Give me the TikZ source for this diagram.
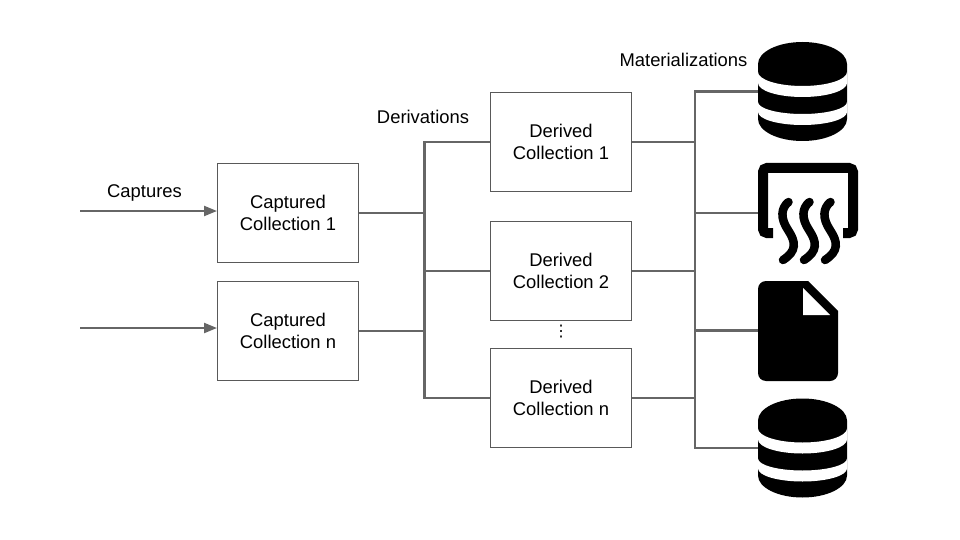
\documentclass[tikz,border=0pt]{standalone}
\usepackage{fontspec}
\setmainfont{Liberation Sans}
\newfontfamily\dotsfont{DejaVu Sans}
\usetikzlibrary{arrows.meta}
\definecolor{linegray}{HTML}{666666}
\definecolor{boxgray}{HTML}{595959}
\tikzset{
  box/.style={draw=boxgray,line width=1pt,fill=white,minimum width=141pt,minimum height=99pt,inner sep=0pt,align=center,text=black,font=\fontsize{18.4}{22}\selectfont},
  lbl/.style={inner sep=0pt,text=black,font=\fontsize{18.4}{22}\selectfont},
  conn/.style={draw=linegray,line width=2.2pt},
  flow/.style={conn,-{Triangle[length=13pt,width=10pt]}},
  iconbox/.style={inner sep=0pt,minimum width=#1,minimum height=99pt},
  squig/.style={draw=black,line width=8.5pt,line cap=round}
}
\newcommand{\dbicon}[1]{%
  \begin{scope}[shift={(758,#1)}]
    \fill[black] (0,22) -- (0,77) arc[start angle=180,end angle=0,x radius=44.5,y radius=22] -- (89,22) arc[start angle=0,end angle=-180,x radius=44.5,y radius=22] -- cycle;
    \fill[white] (0,30) arc[start angle=180,end angle=0,x radius=44.5,y radius=14] -- (89,41) arc[start angle=0,end angle=180,x radius=44.5,y radius=14] -- cycle;
    \fill[white] (0,60) arc[start angle=180,end angle=0,x radius=44.5,y radius=12] -- (89,70) arc[start angle=0,end angle=180,x radius=44.5,y radius=13] -- cycle;
  \end{scope}}
\begin{document}
\begin{tikzpicture}[x=1pt,y=-1pt]
\useasboundingbox[fill=white] (0,0) rectangle (960,540);
% nodes
\node[box] (c1) at (288,212.8) {Captured\\Collection 1};
\node[box] (cn) at (288,330.6) {Captured\\Collection n};
\node[box] (d1) at (561,142) {Derived\\Collection 1};
\node[box] (d2) at (561,270.9) {Derived\\Collection 2};
\node[box] (dn) at (561,398) {Derived\\Collection n};
\node[lbl] (capt) at (144.5,193.4) {Captures};
\node[lbl] (deriv) at (423,116.6) {Derivations};
\node[lbl] (mat) at (683.5,60.4) {Materializations};
\node[inner sep=0pt,font=\dotsfont\fontsize{16}{16}\selectfont] (vdots) at (561,332) {⋮};
\node[iconbox=89pt] (db1) at (802.5,91.5) {};
\node[iconbox=100pt] (heat) at (808,213) {};
\node[iconbox=80pt] (file) at (798,330.5) {};
\node[iconbox=89pt] (db2) at (802.5,448) {};
\coordinate (in1) at (80,211);
\coordinate (inn) at (80,328);
\coordinate (to1) at (217,211);
\coordinate (ton) at (217,328);
\coordinate (busL) at (424.5,0);
\coordinate (busR) at (695,0);
% connectors
\draw[flow] (in1) -- (to1);
\draw[flow] (inn) -- (ton);
\draw[conn] (c1.east) -- (c1.east -| busL) -- (d1.west -| busL) -- (d1.west);
\draw[conn] (c1.east) -- (c1.east -| busL) -- (d2.west -| busL) -- (d2.west);
\draw[conn] (cn.east) -- (cn.east -| busL) -- (d2.west -| busL) -- (d2.west);
\draw[conn] (cn.east) -- (cn.east -| busL) -- (dn.west -| busL) -- (dn.west);
\draw[conn] (d1.east) -- (d1.east -| busR) -- (db1.west -| busR) -- (db1.west);
\draw[conn] (d1.east) -- (d1.east -| busR) -- (heat.west -| busR) -- (heat.west);
\draw[conn] (d2.east) -- (d2.east -| busR) -- (file.west -| busR) -- (file.west);
\draw[conn] (dn.east) -- (dn.east -| busR) -- (file.west -| busR);
\draw[conn] (dn.east) -- (dn.east -| busR) -- (db2.west -| busR) -- (db2.west);
\draw[conn] (d1.east -| busR) -- (d2.east -| busR);
% icons
\dbicon{42}
\dbicon{398.5}
\draw[black,line width=10pt,rounded corners=4pt] (773,233) -- (763,233) -- (763,168) -- (853,168) -- (853,233) -- (843,233);
\foreach \dx in {0,21,42}{
  \draw[squig] ([xshift=\dx pt]788.5,202) .. controls ([xshift=\dx pt]781,208) and ([xshift=\dx pt]780,218) .. ([xshift=\dx pt]788,230) .. controls ([xshift=\dx pt]796,242) and ([xshift=\dx pt]797,251) .. ([xshift=\dx pt]783,260);
}
\fill[black] (766,281) arc[start angle=-90,end angle=-180,radius=8] -- (758,373) arc[start angle=180,end angle=90,radius=8] -- (830,381) arc[start angle=90,end angle=0,radius=8] -- (838,311) -- (808,281) -- cycle;
\fill[white] (803,288) -- (803,315) -- (830,315) -- cycle;
\end{tikzpicture}
\end{document}
